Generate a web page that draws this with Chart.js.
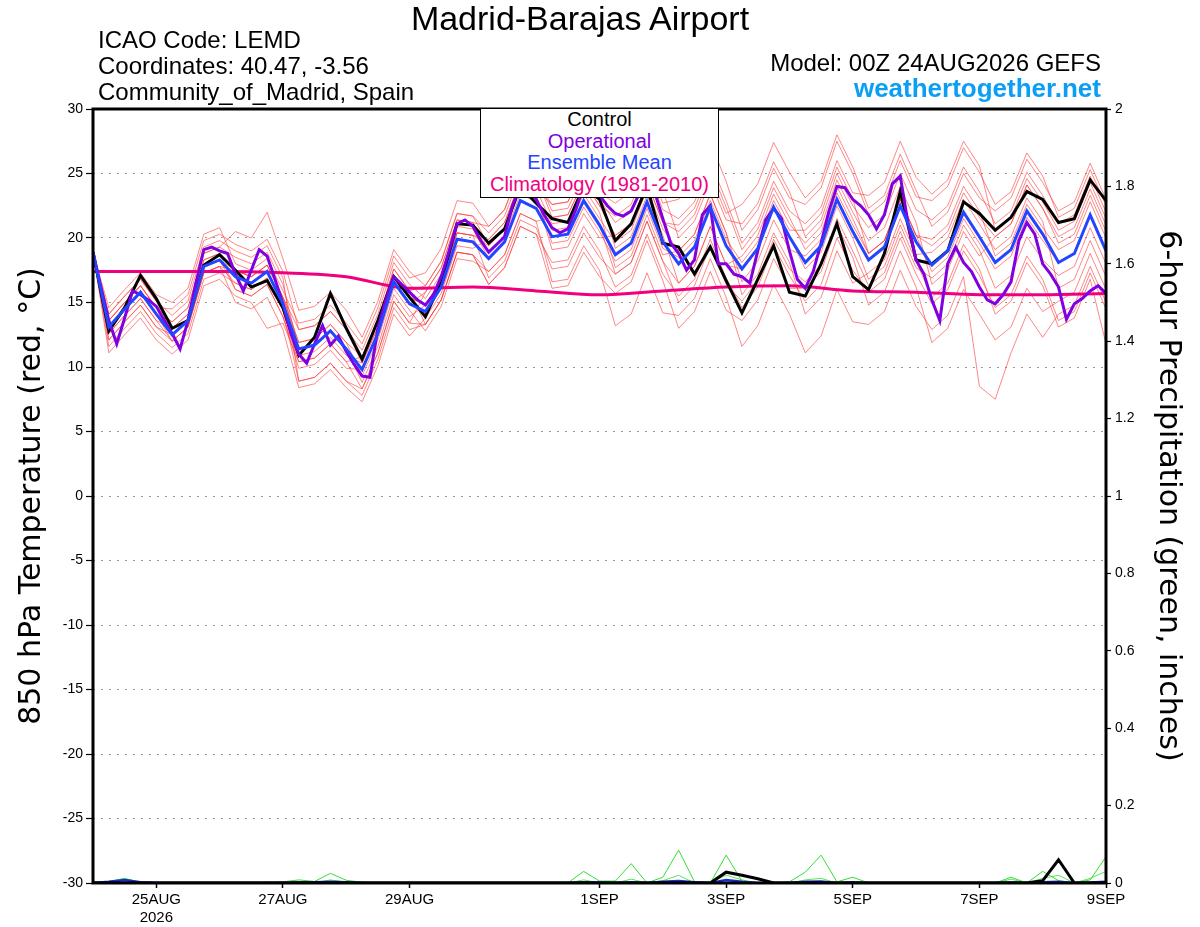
<!DOCTYPE html>
<html lang="en">
<head>
<meta charset="UTF-8"/>
<title>Madrid-Barajas Airport - GEFS plume</title>
<script src="https://cdn.jsdelivr.net/npm/chart.js"></script>
<style>
    html, body {
        margin: 0;
        padding: 0;
        background: #fff;
    }
    .wrap {
        position: relative;
        width: 1200px;
        height: 927px;
        font-family: 'Liberation Sans', Arial, sans-serif;
        color: #000;
    }
    #plume {
        position: absolute;
        left: 0;
        top: 0;
    }
    .txt {
        position: absolute;
        white-space: nowrap;
        line-height: 1;
    }
    .main-title { left: 0; width: 1160px; top: 1px; text-align: center; font-size: 34px; }
    .info { left: 98px; font-size: 24px; }
    .right-info { right: 99px; font-size: 24px; text-align: right; }
    .site { color: #0a9ff5; font-weight: bold; font-size: 26px; }
    .legend-box {
        position: absolute;
        left: 480px;
        top: 108px;
        width: 237px;
        height: 88px;
        background: #fff;
        border: 1px solid #000;
        text-align: center;
        font-size: 20px;
        line-height: 21.5px;
        padding-top: 0;
        box-sizing: content-box;
    }
</style>
</head>
<body>
<div class="wrap">
    <canvas id="plume" width="1200" height="927"></canvas>
    <div class="txt main-title">Madrid-Barajas Airport</div>
    <div class="txt info" style="top:28px">ICAO Code: LEMD</div>
    <div class="txt info" style="top:54px">Coordinates: 40.47, -3.56</div>
    <div class="txt info" style="top:80px">Community_of_Madrid, Spain</div>
    <div class="txt right-info" style="top:51px">Model: 00Z 24AUG2026 GEFS</div>
    <div class="txt right-info site" style="top:75px">weathertogether.net</div>
    <div class="legend-box">
        <div style="color:#000">Control</div>
        <div style="color:#8000e0">Operational</div>
        <div style="color:#2444ff">Ensemble Mean</div>
        <div style="color:#f0007f">Climatology (1981-2010)</div>
    </div>
</div>

<script>
    // x axis in 6-hour steps from 00Z 24AUG (0) to 00Z 9SEP (64)
    const tickSteps = [4, 12, 20, 32, 40, 48, 56, 64];
    const tickLabels = ['25AUG', '27AUG', '29AUG', '1SEP', '3SEP', '5SEP', '7SEP', '9SEP'];
    const tickYear = '2026';

    // 850 hPa temperature, 6-hourly
    const controlTemp = [18.9, 12.8, 14.6, 17.1, 15.3, 13.0, 13.6, 17.9, 18.7, 17.5,
        16.2, 16.7, 14.6, 10.9, 12.3, 15.7, 13.0, 10.6, 13.6, 17.0,
        15.4, 13.9, 16.6, 21.1, 21.0, 19.6, 20.7, 24.0, 22.7, 21.5,
        21.2, 24.0, 23.0, 19.8, 21.1, 24.0, 19.6, 19.3, 17.2, 19.3,
        16.7, 14.2, 16.8, 19.4, 15.8, 15.5, 18.0, 21.1, 17.0, 16.0,
        18.8, 23.6, 18.3, 18.0, 19.0, 22.8, 21.9, 20.6, 21.6, 23.6,
        23.0, 21.2, 21.5, 24.5, 22.9];

    const meanTemp = [18.9, 13.1, 14.5, 15.8, 14.1, 12.5, 13.6, 17.8, 18.3, 17.0,
        16.5, 17.4, 14.9, 11.4, 11.7, 12.8, 11.4, 9.8, 12.6, 16.6,
        14.9, 14.3, 16.2, 19.9, 19.7, 18.4, 19.7, 22.9, 22.3, 20.1,
        20.3, 22.9, 21.0, 18.7, 19.6, 22.8, 19.7, 18.0, 19.3, 22.4,
        19.4, 17.6, 19.2, 22.4, 20.1, 18.1, 19.4, 23.0, 20.5, 18.3,
        19.3, 22.5, 19.7, 17.9, 19.0, 22.0, 20.1, 18.1, 19.1, 22.1,
        20.3, 18.1, 18.8, 21.8, 19.0];

    // operational run, 3-hourly
    const operTemp = [18.9, 16.2, 13.6, 11.8, 13.8, 15.9, 15.6, 15.2, 14.7, 13.6,
        12.6, 11.4, 13.6, 16.5, 19.1, 19.3, 19.0, 18.8, 17.2, 15.9,
        17.5, 19.1, 18.6, 16.8, 14.9, 12.6, 11.0, 10.3, 11.8, 13.2,
        11.7, 12.4, 11.2, 10.2, 9.3, 9.2, 13.0, 15.2, 17.0, 16.4,
        15.8, 15.2, 14.8, 15.6, 17.0, 19.0, 21.1, 21.4, 20.9, 19.8,
        18.9, 19.5, 20.1, 22.5, 24.0, 24.0, 23.0, 21.8, 20.8, 20.4,
        20.7, 22.2, 24.0, 24.0, 23.3, 22.5, 21.9, 21.7, 22.1, 23.4,
        24.5, 23.5, 21.5, 19.6, 18.8, 17.5, 18.3, 21.8, 22.5, 18.0,
        18.0, 17.2, 17.0, 16.5, 19.0, 21.4, 22.3, 21.5, 19.0, 16.8,
        16.1, 17.4, 19.6, 22.1, 24.0, 23.9, 23.0, 22.5, 21.8, 20.7,
        21.8, 24.2, 24.8, 21.1, 18.3, 17.2, 15.2, 13.6, 18.0, 19.3,
        18.1, 17.4, 16.2, 15.2, 14.9, 15.6, 16.6, 19.8, 21.2, 20.3,
        18.0, 17.2, 16.2, 13.7, 14.9, 15.3, 15.9, 16.3, 15.7];

    // climatology, daily at 00Z
    const climTemp = [17.4, 17.4, 17.4, 17.3, 17.0, 16.1, 16.2, 15.9, 15.6,
        15.9, 16.2, 16.3, 15.9, 15.8, 15.6, 15.6, 15.7];

    // ensemble members (6-hourly)
    const member01 = [18.9, 14.6, 16.0, 17.3, 15.6, 15.0, 16.1, 20.3, 20.8, 18.0, 17.5, 18.4, 15.9, 13.4, 13.7, 14.8, 13.4, 11.8, 14.6, 18.6, 16.9, 17.3, 19.2, 22.9, 22.7, 20.9, 22.2, 25.4, 24.8, 21.6, 21.8, 24.4, 22.5, 21.7, 22.6, 25.8, 22.7, 23.0, 24.3, 27.4, 24.4, 20.6, 22.2, 25.4, 23.1, 22.6, 23.9, 27.5, 25.0, 21.8, 22.8, 26.0, 23.2, 22.9, 24.0, 27.0, 25.1, 22.6, 23.6, 26.6, 24.8, 21.6, 22.3, 25.3, 22.5];
    const member02 = [18.9, 11.6, 13.0, 14.3, 12.6, 11.5, 12.6, 16.8, 17.3, 16.5, 16.0, 16.9, 14.4, 8.9, 9.2, 10.3, 8.9, 7.8, 10.6, 14.6, 12.9, 13.3, 15.2, 18.9, 18.7, 17.4, 18.7, 21.9, 21.3, 16.6, 16.8, 19.4, 17.5, 13.2, 14.1, 17.3, 14.2, 14.0, 15.3, 18.4, 15.4, 11.6, 13.2, 16.4, 14.1, 11.1, 12.4, 16.0, 13.5, 13.3, 14.3, 17.5, 14.7, 12.9, 14.0, 17.0, 8.5, 7.5, 11.1, 14.1, 12.3, 14.1, 14.8, 17.8, 15.0];
    const member03 = [18.9, 13.6, 15.0, 16.3, 14.6, 13.5, 14.6, 18.8, 19.3, 20.5, 20.0, 22.0, 18.4, 14.4, 14.7, 15.8, 14.4, 12.3, 15.1, 19.1, 17.4, 16.3, 18.2, 21.9, 21.7, 19.4, 20.7, 23.9, 23.3, 19.1, 19.3, 21.9, 20.0, 20.2, 21.1, 24.3, 21.2, 20.5, 21.8, 24.9, 21.9, 22.6, 24.2, 27.4, 25.1, 23.1, 24.4, 28.0, 25.5, 22.3, 23.3, 26.5, 23.7, 20.9, 22.0, 25.0, 23.1, 22.1, 23.1, 26.1, 24.3, 22.1, 22.8, 25.8, 23.0];
    const member04 = [18.9, 12.6, 14.0, 15.3, 13.6, 13.0, 14.1, 18.3, 18.8, 16.0, 15.5, 16.4, 13.9, 10.4, 10.7, 11.8, 10.4, 10.8, 13.6, 17.6, 15.9, 13.3, 15.2, 18.9, 18.7, 16.4, 17.7, 20.9, 20.3, 16.1, 16.3, 18.9, 17.0, 15.7, 16.6, 19.8, 16.7, 13.0, 14.3, 17.4, 14.4, 13.6, 15.2, 18.4, 16.1, 16.1, 17.4, 21.0, 18.5, 14.8, 15.8, 19.0, 16.2, 11.9, 13.0, 16.0, 14.1, 12.1, 13.1, 16.1, 14.3, 15.1, 15.8, 18.8, 16.0];
    const member05 = [18.9, 14.1, 15.5, 16.8, 15.1, 14.0, 15.1, 19.3, 19.8, 19.0, 18.5, 19.4, 16.9, 8.9, 9.2, 10.3, 8.9, 8.3, 11.1, 15.1, 13.4, 15.8, 17.7, 21.4, 21.2, 20.9, 22.2, 25.4, 24.8, 22.1, 22.3, 24.9, 23.0, 21.2, 22.1, 25.3, 22.2, 21.5, 22.8, 25.9, 22.9, 19.6, 21.2, 24.4, 22.1, 21.1, 22.4, 26.0, 23.5, 23.3, 24.3, 27.5, 24.7, 23.4, 24.5, 27.5, 25.6, 20.6, 21.6, 24.6, 22.8, 20.6, 21.3, 24.3, 21.5];
    const member06 = [18.9, 12.1, 13.5, 14.8, 13.1, 12.0, 13.1, 17.3, 17.8, 15.0, 14.5, 15.4, 12.9, 8.4, 8.7, 9.8, 8.4, 7.3, 10.1, 14.1, 12.4, 13.8, 15.7, 19.4, 19.2, 19.9, 21.2, 24.4, 23.8, 21.1, 21.3, 23.9, 22.0, 17.7, 18.6, 21.8, 18.7, 19.0, 20.3, 23.4, 20.4, 15.6, 17.2, 20.4, 18.1, 14.1, 15.4, 19.0, 16.5, 17.3, 18.3, 21.5, 18.7, 18.9, 20.0, 23.0, 21.1, 19.1, 20.1, 23.1, 21.3, 16.1, 16.8, 19.8, 17.0];
    const member07 = [18.9, 13.6, 15.0, 16.3, 14.6, 13.0, 14.1, 18.3, 18.8, 17.5, 17.0, 17.9, 15.4, 11.9, 12.2, 13.3, 11.9, 10.8, 13.6, 17.6, 15.9, 16.3, 18.2, 21.9, 21.7, 20.4, 21.7, 24.9, 24.3, 22.6, 22.8, 25.4, 23.5, 19.2, 20.1, 23.3, 20.2, 16.5, 17.8, 20.9, 17.9, 18.6, 20.2, 23.4, 21.1, 19.6, 20.9, 24.5, 22.0, 19.8, 20.8, 24.0, 21.2, 16.4, 17.5, 20.5, 18.6, 20.1, 21.1, 24.1, 22.3, 19.6, 20.3, 23.3, 20.5];
    const member08 = [18.9, 11.1, 12.5, 13.8, 12.1, 11.0, 12.1, 16.3, 16.8, 15.5, 15.0, 13.0, 13.4, 10.4, 10.7, 11.8, 10.4, 8.3, 11.1, 15.1, 13.4, 13.3, 15.2, 18.9, 18.7, 16.4, 17.7, 20.9, 20.3, 18.1, 18.3, 20.9, 19.0, 16.2, 17.1, 20.3, 17.2, 15.5, 16.8, 19.9, 16.9, 14.6, 16.2, 19.4, 17.1, 15.1, 16.4, 20.0, 17.5, 15.8, 16.8, 20.0, 17.2, 14.9, 16.0, 19.0, 17.1, 14.6, 15.6, 18.6, 16.8, 13.6, 14.3, 17.3, 14.5];
    const member09 = [18.9, 14.1, 15.5, 16.8, 15.1, 12.5, 13.6, 17.8, 18.3, 17.5, 17.0, 17.9, 15.4, 12.9, 13.2, 14.3, 12.9, 10.3, 13.1, 17.1, 15.4, 14.8, 16.7, 20.4, 20.2, 19.9, 21.2, 24.4, 23.8, 22.6, 22.8, 25.4, 23.5, 22.7, 23.6, 26.8, 23.7, 20.0, 21.3, 24.4, 21.4, 21.1, 22.7, 25.9, 23.6, 20.1, 21.4, 25.0, 22.5, 20.8, 21.8, 25.0, 22.2, 21.4, 22.5, 25.5, 23.6, 21.1, 22.1, 25.1, 23.3, 21.1, 21.8, 24.8, 22.0];
    const member10 = [18.9, 13.1, 14.5, 15.8, 14.1, 13.5, 14.6, 18.8, 19.3, 18.5, 18.0, 18.9, 16.4, 11.4, 11.7, 12.8, 11.4, 8.8, 11.6, 15.6, 13.9, 14.8, 16.7, 20.4, 20.2, 16.9, 18.2, 21.4, 20.8, 17.6, 17.8, 20.4, 18.5, 17.2, 18.1, 21.3, 18.2, 15.0, 16.3, 19.4, 16.4, 15.1, 16.7, 19.9, 17.6, 16.6, 17.9, 21.5, 19.0, 16.3, 17.3, 20.5, 17.7, 16.9, 18.0, 21.0, 19.1, 16.1, 17.1, 20.1, 18.3, 17.1, 17.8, 20.8, 18.0];
    const member11 = [18.9, 12.1, 13.5, 14.8, 13.1, 12.5, 13.6, 17.8, 18.3, 16.0, 15.5, 16.4, 13.9, 9.9, 10.2, 11.3, 9.9, 9.8, 12.6, 16.6, 14.9, 15.8, 17.7, 21.4, 21.2, 18.9, 20.2, 23.4, 22.8, 20.6, 20.8, 23.4, 21.5, 19.7, 20.6, 23.8, 20.7, 19.0, 20.3, 23.4, 20.4, 16.6, 18.2, 21.4, 19.1, 18.6, 19.9, 23.5, 21.0, 18.8, 19.8, 23.0, 20.2, 19.9, 21.0, 24.0, 22.1, 18.6, 19.6, 22.6, 20.8, 19.1, 19.8, 22.8, 20.0];
    const member12 = [18.9, 13.6, 15.0, 16.3, 14.6, 14.5, 15.6, 19.8, 20.3, 19.5, 19.0, 19.9, 17.4, 12.9, 13.2, 14.3, 12.9, 11.3, 14.1, 18.1, 16.4, 15.3, 17.2, 20.9, 20.7, 18.4, 19.7, 22.9, 22.3, 20.1, 20.3, 22.9, 21.0, 17.2, 18.1, 21.3, 18.2, 16.5, 17.8, 20.9, 17.9, 17.6, 19.2, 22.4, 20.1, 17.6, 18.9, 22.5, 20.0, 16.8, 17.8, 21.0, 18.2, 15.4, 16.5, 19.5, 17.6, 14.1, 15.1, 18.1, 16.3, 13.1, 13.8, 16.8, 11.8];
    const member13 = [18.9, 12.6, 14.0, 15.3, 13.6, 12.0, 13.1, 17.3, 17.8, 17.5, 17.0, 17.9, 15.4, 11.9, 12.2, 13.3, 11.9, 9.3, 12.1, 16.1, 14.4, 12.8, 14.7, 18.4, 18.2, 17.4, 18.7, 21.9, 21.3, 21.6, 21.8, 24.4, 22.5, 20.2, 21.1, 24.3, 21.2, 21.0, 22.3, 25.4, 22.4, 19.1, 20.7, 23.9, 21.6, 19.1, 20.4, 24.0, 21.5, 18.8, 19.8, 23.0, 20.2, 19.4, 20.5, 23.5, 21.6, 20.1, 21.1, 24.1, 22.3, 20.1, 20.8, 23.8, 21.0];
    const member14 = [18.9, 13.1, 14.5, 15.8, 14.1, 12.0, 13.1, 17.3, 17.8, 16.5, 16.0, 16.9, 14.4, 10.9, 11.2, 12.3, 10.9, 10.3, 13.1, 17.1, 15.4, 14.8, 16.7, 20.4, 20.2, 19.4, 20.7, 23.9, 23.3, 19.6, 19.8, 22.4, 20.5, 18.2, 19.1, 22.3, 19.2, 18.5, 19.8, 22.9, 19.9, 18.1, 19.7, 22.9, 20.6, 20.6, 21.9, 25.5, 23.0, 18.8, 19.8, 23.0, 20.2, 17.4, 18.5, 21.5, 19.6, 17.6, 18.6, 21.6, 19.8, 18.1, 18.8, 21.8, 19.0];
    const members = [member01, member02, member03, member04, member05, member06, member07,
        member08, member09, member10, member11, member12, member13, member14];

    // 6-hour precipitation (inches)
    const greenPrecip1 = [0, 0.004, 0.012, 0.002, 0, 0, 0, 0, 0, 0,
        0, 0, 0.003, 0.008, 0.004, 0.025, 0.007, 0.002, 0, 0,
        0, 0, 0, 0, 0, 0, 0, 0, 0, 0,
        0, 0.03, 0.005, 0.005, 0.05, 0, 0.015, 0.085, 0.003, 0,
        0.072, 0.005, 0, 0, 0.003, 0.028, 0.072, 0.003, 0.015, 0,
        0, 0, 0, 0, 0, 0, 0, 0, 0.015, 0,
        0.03, 0.006, 0, 0.008, 0.068];
    const greenPrecip2 = [0, 0.002, 0.008, 0.001, 0, 0, 0, 0, 0, 0,
        0, 0.002, 0, 0.004, 0, 0.008, 0.002, 0, 0, 0,
        0, 0, 0, 0, 0, 0, 0, 0, 0, 0,
        0, 0.008, 0, 0, 0.01, 0, 0.006, 0.02, 0, 0,
        0.02, 0.008, 0, 0, 0, 0.008, 0.012, 0, 0.004, 0,
        0, 0, 0, 0, 0, 0, 0, 0, 0.01, 0,
        0.012, 0.02, 0, 0.012, 0.03];
    const controlPrecip = [0, 0, 0, 0, 0, 0, 0, 0, 0, 0,
        0, 0, 0, 0, 0, 0, 0, 0, 0, 0,
        0, 0, 0, 0, 0, 0, 0, 0, 0, 0,
        0, 0, 0, 0, 0, 0, 0, 0, 0, 0,
        0.028, 0.02, 0.011, 0, 0, 0, 0, 0, 0, 0,
        0, 0, 0, 0, 0, 0, 0, 0, 0, 0,
        0.006, 0.06, 0, 0, 0];
    const meanPrecip = [0, 0.003, 0.008, 0.002, 0, 0, 0, 0, 0, 0,
        0, 0, 0, 0.002, 0.002, 0.003, 0.002, 0, 0, 0,
        0, 0, 0, 0, 0, 0, 0, 0, 0, 0,
        0, 0.002, 0.001, 0, 0.002, 0, 0.003, 0.005, 0.002, 0,
        0.008, 0.003, 0, 0, 0, 0.003, 0.004, 0, 0.001, 0,
        0, 0, 0, 0, 0, 0, 0, 0, 0.001, 0,
        0.002, 0.003, 0, 0.001, 0.003];

    const toPoints = (arr, step) => arr.map((v, i) => ({x: i * step, y: v}));

    const datasets = [];
    datasets.push({data: toPoints(meanTemp, 1), borderColor: '#2444ff', borderWidth: 3, order: 0});
    datasets.push({data: toPoints(operTemp, 0.5), borderColor: '#8000e0', borderWidth: 3, order: 1});
    datasets.push({data: toPoints(controlTemp, 1), borderColor: '#000', borderWidth: 3, order: 2});
    datasets.push({data: toPoints(climTemp, 4), borderColor: '#f0007f', borderWidth: 3,
        cubicInterpolationMode: 'monotone', order: 3});
    datasets.push({data: toPoints(controlPrecip, 1), yAxisID: 'y2', borderColor: '#000', borderWidth: 3, order: 4});
    datasets.push({data: toPoints(meanPrecip, 1), yAxisID: 'y2', borderColor: '#1a2ad0', borderWidth: 2.5, order: 5});
    datasets.push({data: toPoints(greenPrecip1, 1), yAxisID: 'y2', borderColor: '#33dd33', borderWidth: 1, order: 6});
    datasets.push({data: toPoints(greenPrecip2, 1), yAxisID: 'y2', borderColor: '#55e855', borderWidth: 1, order: 6});
    members.forEach(m => {
        datasets.push({data: toPoints(m, 1), borderColor: 'rgba(255,50,50,0.65)', borderWidth: 0.9, order: 10});
    });

    // thick frame round the plot area
    const framePlugin = {
        id: 'frame',
        afterDatasetsDraw(chart) {
            const {ctx, chartArea: a} = chart;
            ctx.save();
            ctx.strokeStyle = '#000';
            ctx.lineWidth = 3;
            ctx.strokeRect(a.left, a.top, a.right - a.left, a.bottom - a.top);
            ctx.restore();
        }
    };

    const tickFont = {family: "'Liberation Sans', Arial, sans-serif", size: 14};

    new Chart(document.getElementById('plume').getContext('2d'), {
        type: 'line',
        data: {datasets: datasets},
        options: {
            responsive: false,
            animation: false,
            layout: {padding: {top: 109, left: 0, right: 0, bottom: 0}},
            elements: {point: {radius: 0}, line: {tension: 0}},
            plugins: {legend: {display: false}, tooltip: {enabled: false}},
            scales: {
                x: {
                    type: 'linear', min: 0, max: 64,
                    afterBuildTicks: s => { s.ticks = tickSteps.map(v => ({value: v})); },
                    afterFit: s => { s.height = 44; },
                    grid: {drawOnChartArea: false, drawTicks: true, tickLength: 5, tickColor: '#000', tickWidth: 1.5},
                    border: {display: false},
                    ticks: {
                        autoSkip: false, maxRotation: 0, minRotation: 0, padding: 3, color: '#000',
                        font: {family: tickFont.family, size: 15},
                        callback: (v) => {
                            const k = tickSteps.indexOf(v);
                            if (k < 0) return '';
                            return k === 0 ? [tickLabels[k], tickYear] : tickLabels[k];
                        }
                    }
                },
                y: {
                    position: 'left', min: -30, max: 30,
                    afterFit: s => { s.width = 93; },
                    grid: {color: '#9a9a9a', lineWidth: 1, tickColor: '#000', tickLength: 7, tickWidth: 1.2, tickBorderDash: []},
                    border: {display: false, dash: [2, 6]},
                    ticks: {stepSize: 5, padding: 3, color: '#000', font: tickFont},
                    title: {
                        display: true, text: '850 hPa Temperature (red, °C)', color: '#000',
                        font: {family: "'DejaVu Sans', sans-serif", size: 30},
                        padding: {top: 14, bottom: 0}
                    }
                },
                y2: {
                    position: 'right', min: 0, max: 2,
                    afterFit: s => { s.width = 94; },
                    grid: {drawOnChartArea: false, tickColor: '#000', tickLength: 5, tickWidth: 1.2},
                    border: {display: false},
                    ticks: {
                        stepSize: 0.2, padding: 4, color: '#000', font: tickFont,
                        callback: v => String(Math.round(v * 10) / 10)
                    },
                    title: {
                        display: true, text: '6-hour Precipitation (green, inches)', color: '#000',
                        font: {family: "'DejaVu Sans', sans-serif", size: 30},
                        padding: {top: 14, bottom: 0}
                    }
                }
            }
        },
        plugins: [framePlugin]
    });
</script>
</body>
</html>
